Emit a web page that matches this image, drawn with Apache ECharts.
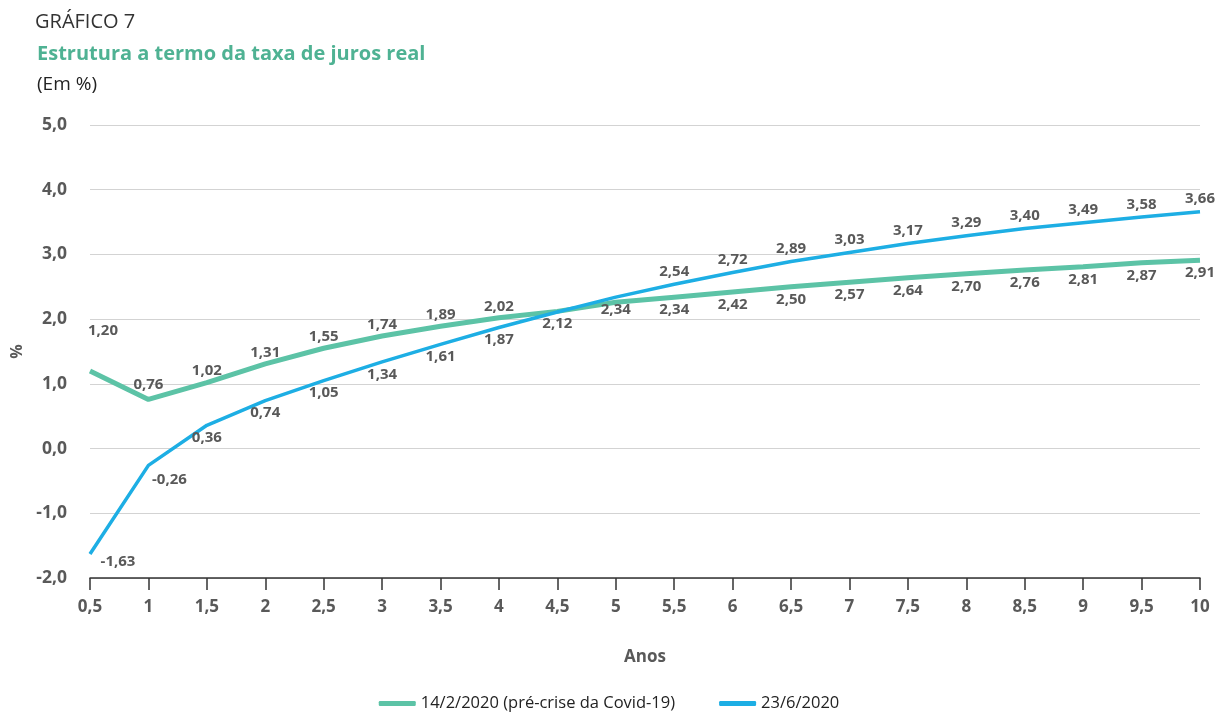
<!DOCTYPE html>
<html>
<head>
<meta charset="utf-8">
<script src="https://cdn.jsdelivr.net/npm/echarts@6/dist/echarts.min.js"></script>
<style>html,body{margin:0;padding:0;background:#fff}#c{width:1218px;height:712px}</style>
</head>
<body>
<div id="c"></div>
<script>
const categories = ['0,5','1','1,5','2','2,5','3','3,5','4','4,5','5','5,5','6','6,5','7','7,5','8','8,5','9','9,5','10'];
const seriesPre = [1.20,0.76,1.02,1.31,1.55,1.74,1.89,2.02,2.12,2.26,2.34,2.42,2.50,2.57,2.64,2.70,2.76,2.81,2.87,2.91];
const seriesJun = [-1.63,-0.26,0.36,0.74,1.05,1.34,1.61,1.87,2.11,2.34,2.54,2.72,2.89,3.03,3.17,3.29,3.40,3.49,3.58,3.66];
const yTicks = [-2,-1,0,1,2,3,4,5];
const seriesNames = ['14/2/2020 (pré-crise da Covid-19)','23/6/2020'];

const fmt = v => v.toFixed(2).replace('.', ',');
const labelBase = {show:true, color:'#595959', fontFamily:'Open Sans', fontWeight:'bold', fontSize:15, formatter: p => fmt(p.value)};

function preItem(v, i) {
  let lab;
  if (i === 9) lab = {show:false};
  else if (i === 0) lab = {position:'top', offset:[13,-28]};
  else if (i === 1) lab = {position:'top', offset:[0,-2]};
  else if (i <= 7) lab = {position:'top', distance:4};
  else lab = {position:'bottom', distance:5};
  return {value:v, label:lab};
}
function junItem(v, i) {
  let lab;
  if (i === 8) lab = {show:false};
  else if (i === 0) lab = {position:'bottom', offset:[28,-5]};
  else if (i === 1) lab = {position:'bottom', offset:[21,2]};
  else if (i <= 9) lab = {position:'bottom', distance:5};
  else lab = {position:'top', distance:5};
  return {value:v, label:lab};
}

const chart = echarts.init(document.getElementById('c'));
chart.setOption({
  animation:false,
  title:[
    {text:'GRÁFICO 7', left:30, top:7, textStyle:{fontFamily:'Open Sans', fontWeight:'normal', fontSize:20, color:'#333'}},
    {text:'Estrutura a termo da taxa de juros real', left:32, top:39, textStyle:{fontFamily:'Open Sans', fontWeight:'bold', fontSize:20, color:'#4fb293'}},
    {text:'(Em %)', left:32, top:70, textStyle:{fontFamily:'Open Sans', fontWeight:'normal', fontSize:19, color:'#222'}}
  ],
  legend:{
    bottom:-5, left:'center', itemWidth:37, itemHeight:5, itemGap:44, icon:'roundRect',
    textStyle:{fontFamily:'Open Sans', fontSize:16.5, color:'#222'},
    data:seriesNames
  },
  grid:{left:90, right:18, top:125, bottom:134, outerBoundsMode:'none', containLabel:false},
  xAxis:{
    type:'category', data:categories, boundaryGap:false,
    name:'Anos', nameLocation:'middle', nameGap:71,
    nameTextStyle:{fontFamily:'Open Sans', fontWeight:'bold', fontSize:17, color:'#595959'},
    axisLine:{onZero:false, lineStyle:{color:'#333', width:1.5}},
    axisTick:{length:12, lineStyle:{color:'#333', width:1.5}},
    axisLabel:{margin:21, fontFamily:'Open Sans', fontWeight:'bold', fontSize:17, color:'#595959'}
  },
  yAxis:{
    type:'value', min:yTicks[0], max:yTicks[yTicks.length-1], interval:1,
    name:'%', nameLocation:'middle', nameGap:65, nameRotate:90,
    nameTextStyle:{fontFamily:'Open Sans', fontWeight:'bold', fontSize:16, color:'#595959'},
    axisLine:{show:false}, axisTick:{show:false},
    axisLabel:{margin:23, fontFamily:'Open Sans', fontWeight:'bold', fontSize:17.5, color:'#595959', formatter:v => v.toFixed(1).replace('.', ',')},
    splitLine:{lineStyle:{color:'#d3d3d3', width:1.2}}
  },
  series:[
    {name:seriesNames[0], type:'line', data:seriesPre.map(preItem), symbol:'circle', symbolSize:0.1, showSymbol:true, z:3,
     lineStyle:{color:'#5cc3a6', width:5}, itemStyle:{color:'#5cc3a6'}, label:labelBase},
    {name:seriesNames[1], type:'line', data:seriesJun.map(junItem), symbol:'circle', symbolSize:0.1, showSymbol:true, z:4,
     lineStyle:{color:'#1daee4', width:3.5}, itemStyle:{color:'#1daee4'}, label:labelBase}
  ]
});
</script>
</body>
</html>
